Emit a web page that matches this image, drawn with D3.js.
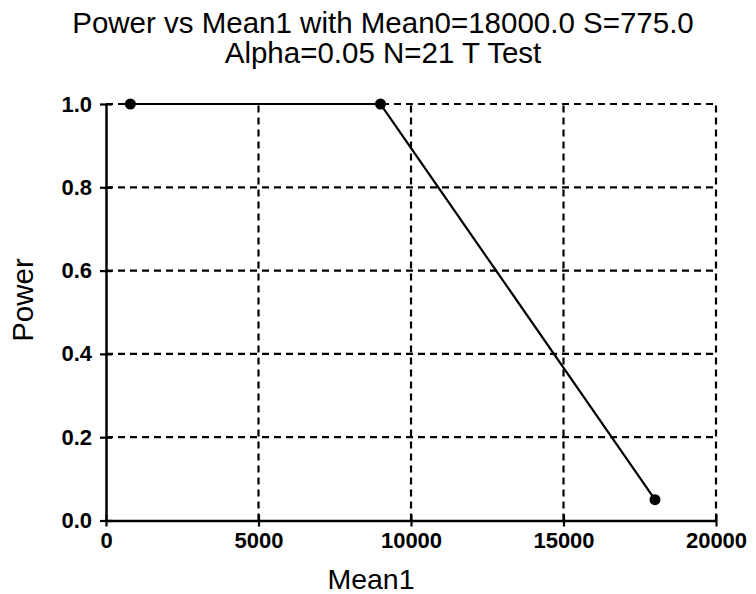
<!DOCTYPE html>
<html><head><meta charset="utf-8">
<script src="https://cdn.jsdelivr.net/npm/d3@7"></script>
<style>body{margin:0;background:#fff}svg{display:block}text{font-family:"Liberation Sans",Arial,sans-serif;fill:#000}</style>
</head><body>
<script>
const mean1 = [800, 9000, 18000];
const power = [1.0, 1.0, 0.05];
const xTicks = [0, 5000, 10000, 15000, 20000];
const yTicks = [0.0, 0.2, 0.4, 0.6, 0.8, 1.0];
const titleLines = ["Power vs Mean1 with Mean0=18000.0 S=775.0", "Alpha=0.05 N=21 T Test"];
const xLabel = "Mean1", yLabel = "Power";

const W = 756, H = 594;
const m = {left: 106, right: 40, top: 104, bottom: 73.5};
const svg = d3.select("body").append("svg").attr("width", W).attr("height", H);
const x = d3.scaleLinear().domain([0, 20000]).range([m.left, W - m.right]);
const y = d3.scaleLinear().domain([0, 1]).range([H - m.bottom, m.top]);

// grid
const g = svg.append("g").attr("stroke", "#000").attr("stroke-width", 2.2).attr("stroke-dasharray", "7,5");
g.selectAll(".vx").data(xTicks.filter(d => d > 0)).join("line")
  .attr("x1", d => x(d)).attr("x2", d => x(d)).attr("y1", y(0)).attr("y2", y(1));
g.selectAll(".hy").data(yTicks.filter(d => d > 0)).join("line")
  .attr("y1", d => y(d)).attr("y2", d => y(d)).attr("x1", x(0)).attr("x2", x(20000));

// axes
const xa = svg.append("g").attr("transform", `translate(0,${y(0)})`)
  .call(d3.axisBottom(x).tickValues(xTicks).tickFormat(d3.format("d")).tickSizeInner(6).tickSizeOuter(0).tickPadding(6));
const ya = svg.append("g").attr("transform", `translate(${x(0)},0)`)
  .call(d3.axisLeft(y).tickValues(yTicks).tickFormat(d3.format(".1f")).tickSizeInner(6).tickSizeOuter(0).tickPadding(8));
[xa, ya].forEach(a => {
  a.select(".domain").attr("stroke", "#000").attr("stroke-width", 2.5);
  a.selectAll(".tick line").attr("stroke", "#000").attr("stroke-width", 2.2);
  a.selectAll(".tick text").attr("font-size", 22).attr("font-weight", "bold").attr("font-family", "Liberation Sans, Arial, sans-serif");
});
xa.selectAll(".tick line").attr("y1", -6).attr("y2", 6);
xa.selectAll(".tick text").attr("dy", null).attr("y", 27);
ya.selectAll(".tick line").attr("x1", -6).attr("x2", 6);

// line + points
const line = d3.line().x((d, i) => x(mean1[i])).y((d, i) => y(power[i]));
svg.append("path").datum(power).attr("d", line).attr("fill", "none").attr("stroke", "#000").attr("stroke-width", 2.2);
svg.selectAll(".pt").data(power).join("circle")
  .attr("cx", (d, i) => x(mean1[i])).attr("cy", d => y(d)).attr("r", 5.5).attr("fill", "#000");

// titles
svg.selectAll(".title").data(titleLines).join("text")
  .attr("x", 383).attr("y", (d, i) => 33 + i * 30).attr("text-anchor", "middle")
  .attr("font-size", 29.5).text(d => d);
svg.append("text").attr("x", 371).attr("y", 589).attr("text-anchor", "middle").attr("font-size", 28.5).text(xLabel);
svg.append("text").attr("transform", "translate(33,300) rotate(-90)").attr("text-anchor", "middle").attr("font-size", 29.5).text(yLabel);
</script>
</body></html>
